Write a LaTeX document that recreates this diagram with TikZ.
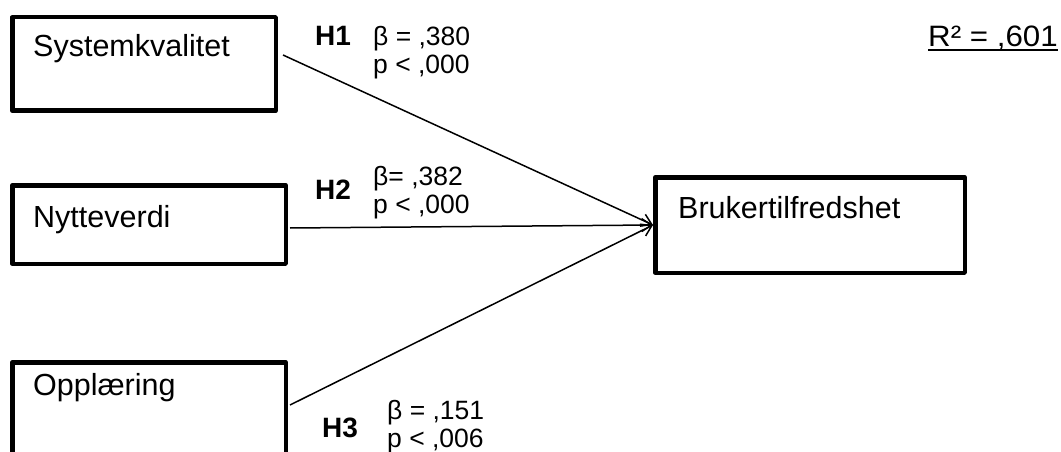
\documentclass[tikz,border=0pt]{standalone}
\usepackage{fontspec}
\setmainfont{Liberation Sans}
\newfontfamily\widefont[FakeStretch=1.06]{Liberation Sans}
\usetikzlibrary{arrows.meta}
\tikzset{
  box/.style={draw, line width=4.5pt, line join=round, inner sep=0pt, fill=none},
  boxtext/.style={anchor=base west, inner sep=0pt, font=\fontsize{30.5}{35}\selectfont},
  hyp/.style={anchor=base west, inner sep=0pt, font=\fontsize{28}{32}\selectfont\bfseries},
  stat/.style={anchor=base west, inner sep=0pt, font=\fontsize{26.5}{30}\selectfont},
  path/.style={line width=1.5pt, -{Straight Barb[length=10pt,width=13pt]}}
}
\begin{document}
\begin{tikzpicture}[x=1pt,y=-1pt]
\clip (0,0) rectangle (1061,452);
\fill[white] (0,0) rectangle (1061,452);
% boxes
\node[box, minimum width=263.5pt, minimum height=93.5pt] (b1) at (144,64) {};
\node[box, minimum width=273.5pt, minimum height=78.5pt] (b2) at (149,224.5) {};
\node[box, minimum width=273.5pt, minimum height=105.5pt] (b3) at (149,415) {};
\node[box, minimum width=309.5pt, minimum height=95.5pt] (b4) at (810,225) {};
% box texts
\node[boxtext] (t1) at (33,57) {Systemkvalitet};
\node[boxtext] (t2) at (33,227) {Nytteverdi};
\node[boxtext] (t3) at (33,395) {Opplæring};
\node[boxtext] (t4) at (678,218) {Brukertilfredshet};
% connectors
\draw[path] ([xshift=5pt,yshift=9pt]b1.east) -- (b4.west);
\draw[path] ([xshift=2pt,yshift=-3.5pt]b2.east) -- (b4.west);
\draw[path] ([xshift=2pt,yshift=10pt]b3.east) -- (b4.west);
% labels
\node[hyp] (h1) at (315,46) {H1};
\node[stat] (s1a) at (373,46) {β = ,380};
\node[stat] (s1b) at (373,74) {p < ,000};
\node[hyp] (h2) at (315,199) {H2};
\node[stat] (s2a) at (373,185) {β= ,382};
\node[stat] (s2b) at (373,213) {p < ,000};
\node[hyp] (h3) at (322,437) {H3};
\node[stat] (s3a) at (387,419) {β = ,151};
\node[stat] (s3b) at (387,447) {p < ,006};
% R squared
\node[anchor=base west, inner sep=0pt, font=\widefont\fontsize{29.5}{34}\selectfont] (r2) at (928,47) {R² = ,601};
\draw[line width=2pt] ([yshift=-3pt]r2.base west) -- ([yshift=-3pt]r2.base east);
\end{tikzpicture}
\end{document}
